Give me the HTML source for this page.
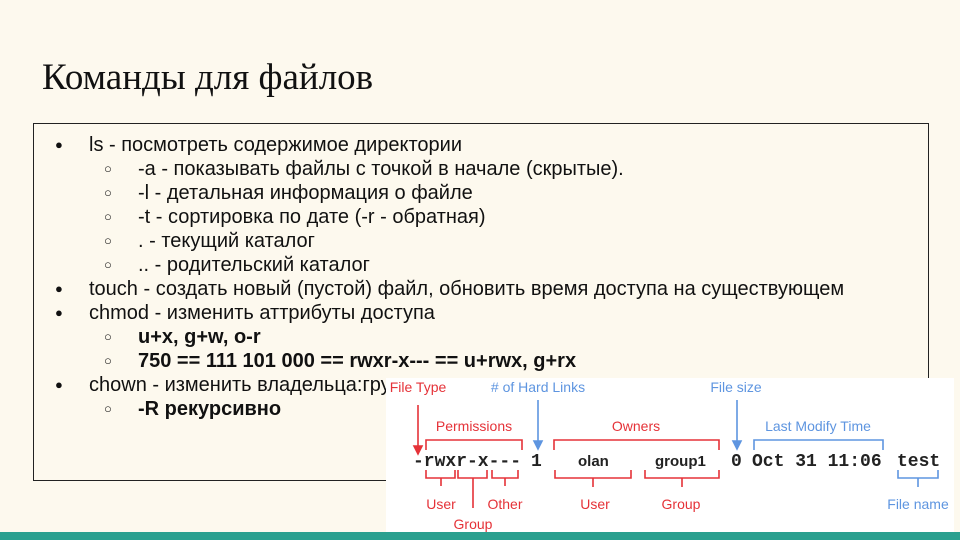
<!DOCTYPE html>
<html><head><meta charset="utf-8"><style>
body{margin:0;}
#s{position:relative;width:960px;height:540px;background:#fdf9ee;overflow:hidden;font-family:"Liberation Sans","DejaVu Sans",sans-serif;color:#111;}
.t{position:absolute;left:42px;top:56px;font-family:"Liberation Serif","DejaVu Serif",serif;font-size:37px;white-space:nowrap;}
.box{position:absolute;left:33px;top:123px;width:894px;height:356px;border:1px solid #222;}
.l{position:absolute;font-size:20px;white-space:nowrap;line-height:24px;}
.b{position:absolute;font-size:13px;line-height:24px;}
.bar{position:absolute;left:0;top:532px;width:960px;height:8px;background:#2aa08f;}
</style></head><body><div id="s">
<div class="t">Команды для файлов</div>
<div class="box"></div>
<div class="b" style="left:55px;top:133px">●</div><div class="l" style="left:89px;top:133px">ls - посмотреть содержимое директории</div>
<div class="b" style="left:104px;top:157px">○</div><div class="l" style="left:138px;top:157px">-a - показывать файлы с точкой в начале (скрытые).</div>
<div class="b" style="left:104px;top:181px">○</div><div class="l" style="left:138px;top:181px">-l - детальная информация о файле</div>
<div class="b" style="left:104px;top:205px">○</div><div class="l" style="left:138px;top:205px">-t - сортировка по дате (-r - обратная)</div>
<div class="b" style="left:104px;top:229px">○</div><div class="l" style="left:138px;top:229px">. - текущий каталог</div>
<div class="b" style="left:104px;top:253px">○</div><div class="l" style="left:138px;top:253px">.. - родительский каталог</div>
<div class="b" style="left:55px;top:277px">●</div><div class="l" style="left:89px;top:277px">touch - создать новый (пустой) файл, обновить время доступа на существующем</div>
<div class="b" style="left:55px;top:301px">●</div><div class="l" style="left:89px;top:301px">chmod - изменить аттрибуты доступа</div>
<div class="b" style="left:104px;top:325px">○</div><div class="l" style="left:138px;top:325px;font-weight:bold">u+x, g+w, o-r</div>
<div class="b" style="left:104px;top:349px">○</div><div class="l" style="left:138px;top:349px;font-weight:bold">750 == 111 101 000 == rwxr-x--- == u+rwx, g+rx</div>
<div class="b" style="left:55px;top:373px">●</div><div class="l" style="left:89px;top:373px">chown - изменить владельца:группу</div>
<div class="b" style="left:104px;top:397px">○</div><div class="l" style="left:138px;top:397px;font-weight:bold">-R рекурсивно</div>
<svg style="position:absolute;left:0;top:0" width="960" height="540" font-family="Liberation Sans, sans-serif">
<rect x="386" y="378" width="568" height="154" fill="#fff"/>
<g font-size="14" fill="#e53238" text-anchor="middle">
<text x="418" y="392">File Type</text>
<text x="474" y="431">Permissions</text>
<text x="636" y="431">Owners</text>
<text x="441" y="509">User</text>
<text x="473" y="529">Group</text>
<text x="505" y="509">Other</text>
<text x="595" y="509">User</text>
<text x="681" y="509">Group</text>
</g>
<g font-size="14" fill="#5e95e0" text-anchor="middle">
<text x="538" y="392"># of Hard Links</text>
<text x="736" y="392">File size</text>
<text x="818" y="431">Last Modify Time</text>
<text x="918" y="509">File name</text>
</g>
<g font-family="Liberation Mono, monospace" font-weight="bold" font-size="18" fill="#222">
<text x="413" y="466">-rwxr-x---</text>
<text x="531" y="466">1</text>
<text x="578" y="466" font-family="Liberation Sans, sans-serif" font-size="15">olan</text>
<text x="655" y="466" font-family="Liberation Sans, sans-serif" font-size="15">group1</text>
<text x="731" y="466">0</text>
<text x="752" y="466">Oct 31 11:06</text>
<text x="897" y="466">test</text>
</g>
<g stroke="#e53238" stroke-width="1.6" fill="none">
<path d="M418 405V450"/><path d="M414 446L418 454L422 446Z" fill="#e53238"/>
<path d="M426 450V440H522V450"/>
<path d="M554 450V440H719V450"/>
<path d="M426 470V478H455V470M441 478V486"/>
<path d="M458 470V478H487V470M473 478V508"/>
<path d="M492 470V478H518V470M505 478V486"/>
<path d="M555 470V478H631V470M593 478V487"/>
<path d="M645 470V478H719V470M682 478V487"/>
</g>
<g stroke="#5e95e0" stroke-width="1.6" fill="none">
<path d="M538 400V445"/><path d="M534 441L538 449L542 441Z" fill="#5e95e0"/>
<path d="M737 400V445"/><path d="M733 441L737 449L741 441Z" fill="#5e95e0"/>
<path d="M754 450V440H883V450"/>
<path d="M898 470V478H938V470M918 478V487"/>
</g>
</svg>
<div class="bar"></div>
</div></body></html>
